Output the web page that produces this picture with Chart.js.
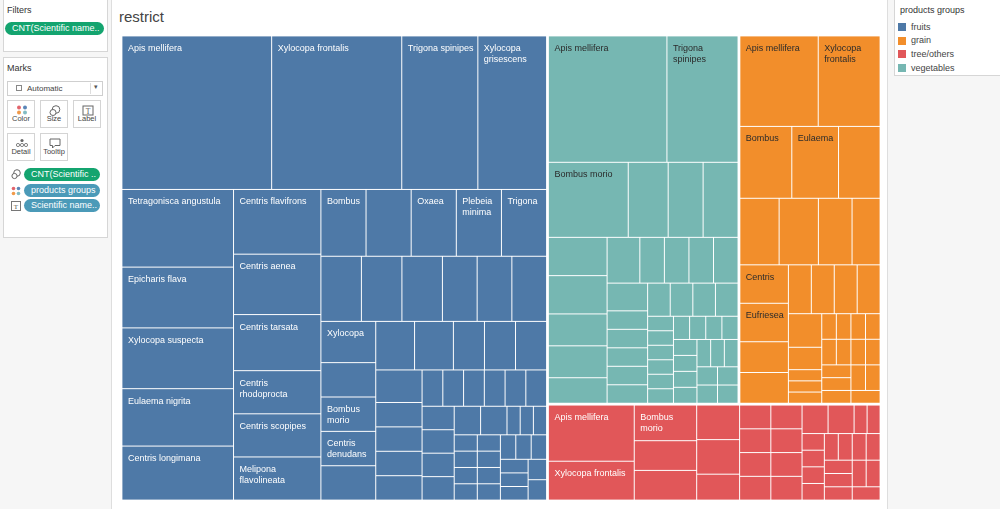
<!DOCTYPE html>
<html>
<head>
<meta charset="utf-8">
<script src="https://cdn.jsdelivr.net/npm/chart.js@4.4.1/dist/chart.umd.min.js"></script>
<style>
  body { margin:0; width:1000px; height:509px; position:relative; overflow:hidden;
         background:#f6f6f6; font-family:"Liberation Sans", Arial, sans-serif; color:#333; }
  .abs { position:absolute; }
  .card { position:absolute; background:#fff; border:1px solid #d6d6d6; box-sizing:border-box; }
  .hdr { position:absolute; font-size:9px; color:#333; }
  .pill { position:absolute; height:13px; border-radius:7px; color:#fff; font-size:9px;
          line-height:13px; box-sizing:border-box; padding-left:7px; white-space:nowrap; overflow:hidden; }
  .green { background:#14a46f; }
  .blue { background:#4b9ab8; }
  .btn { position:absolute; width:28px; height:28px; border:1px solid #d4d4d4; box-sizing:border-box;
         background:#fff; font-size:7.5px; color:#444; text-align:center; }
  .btn span { position:absolute; left:0; right:0; bottom:4px; }
  .btn svg { position:absolute; left:8px; top:4px; }
  #view { position:absolute; left:111px; top:0; width:777px; height:509px; background:#fff;
          border-left:1px solid #dedede; border-right:1px solid #dedede; box-sizing:border-box; }
  #title { position:absolute; left:119px; top:8px; font-size:15px; line-height:17px; color:#444; }
  #chartBox { position:absolute; left:121px; top:35px; width:760px; height:466px; }
  .leg { position:absolute; font-size:9px; color:#444; }
  .sw { position:absolute; width:8px; height:8px; }
</style>
</head>
<body>

<!-- left shelf -->
<div class="card" style="left:3px;top:-1px;width:105px;height:53px"></div>
<div class="hdr" style="left:7px;top:5px">Filters</div>
<div class="pill green" style="left:5px;top:22px;width:99px">CNT(Scientific name..</div>

<div class="card" style="left:3px;top:57px;width:105px;height:181px"></div>
<div class="hdr" style="left:7px;top:63px">Marks</div>
<div class="abs" style="left:7px;top:81px;width:96px;height:15px;border:1px solid #cfcfcf;box-sizing:border-box;background:#fff"></div>
<div class="abs" style="left:16px;top:85px;width:6px;height:6px;border:1px solid #888;box-sizing:border-box"></div>
<div class="abs" style="left:27px;top:84px;font-size:8px;color:#444">Automatic</div>
<div class="abs" style="left:90px;top:83px;width:1px;height:11px;background:#ddd"></div>
<div class="abs" style="left:94px;top:83px;font-size:7px;color:#555">&#9662;</div>

<div class="btn" style="left:7px;top:100px">
  <svg width="12" height="10"><circle cx="3" cy="2.5" r="2" fill="#e2646c"/><circle cx="9" cy="2.5" r="2" fill="#5b86b8"/><circle cx="3" cy="7.5" r="2" fill="#f09a4a"/><circle cx="9" cy="7.5" r="2" fill="#82bcc4"/></svg>
  <span>Color</span></div>
<div class="btn" style="left:40px;top:100px">
  <svg width="12" height="11"><circle cx="7" cy="4.5" r="3.8" fill="none" stroke="#666"/><circle cx="4" cy="7.5" r="3" fill="#fff" stroke="#666"/></svg>
  <span>Size</span></div>
<div class="btn" style="left:73px;top:100px">
  <svg width="12" height="11"><rect x="1" y="1" width="10" height="9" fill="none" stroke="#666"/><text x="6" y="8.5" font-size="7.5" text-anchor="middle" fill="#555" font-family="Liberation Serif">T</text></svg>
  <span>Label</span></div>
<div class="btn" style="left:7px;top:133px">
  <svg width="12" height="10"><circle cx="6" cy="2.5" r="1.6" fill="#666"/><circle cx="2" cy="7" r="1.6" fill="none" stroke="#666" stroke-width="0.8"/><circle cx="6" cy="7" r="1.6" fill="none" stroke="#666" stroke-width="0.8"/><circle cx="10" cy="7" r="1.6" fill="none" stroke="#666" stroke-width="0.8"/></svg>
  <span>Detail</span></div>
<div class="btn" style="left:40px;top:133px">
  <svg width="12" height="11"><path d="M1 1 H11 V7.5 H6 L3.5 10 V7.5 H1 Z" fill="none" stroke="#666"/></svg>
  <span>Tooltip</span></div>

<svg class="abs" style="left:11px;top:169px" width="10" height="11"><circle cx="6" cy="4" r="3.3" fill="none" stroke="#666"/><circle cx="3.5" cy="7" r="2.6" fill="#fff" stroke="#666"/></svg>
<div class="pill green" style="left:24px;top:168px;width:76px">CNT(Scientific ..</div>
<svg class="abs" style="left:11px;top:186px" width="10" height="10"><circle cx="2.5" cy="2.5" r="1.8" fill="#e2646c"/><circle cx="7.5" cy="2.5" r="1.8" fill="#5b86b8"/><circle cx="2.5" cy="7.5" r="1.8" fill="#f09a4a"/><circle cx="7.5" cy="7.5" r="1.8" fill="#82bcc4"/></svg>
<div class="pill blue" style="left:24px;top:184px;width:76px">products groups</div>
<svg class="abs" style="left:11px;top:201px" width="10" height="10"><rect x="0.5" y="0.5" width="9" height="9" fill="none" stroke="#777"/><text x="5" y="8" font-size="7" text-anchor="middle" fill="#555" font-family="Liberation Serif">T</text></svg>
<div class="pill blue" style="left:24px;top:199px;width:76px">Scientific name..</div>

<!-- worksheet -->
<div id="view"></div>
<div id="title">restrict</div>
<div id="chartBox"><canvas id="treemap"></canvas></div>

<!-- legend -->
<div class="card" style="left:894px;top:-1px;width:108px;height:77px"></div>
<div class="leg" style="left:900px;top:5px;color:#333">products groups</div>
<div id="legendItems"></div>

<script>
// products groups, in the order Tableau sorts them (largest count first)
const groupNames = ['fruits', 'vegetables', 'grain', 'tree/others'];
const groupColors = ['#4e79a7', '#76b7b2', '#f28e2b', '#e15759'];
const labelColors = ['#ffffff', '#2b2b2b', '#2b2b2b', '#ffffff'];
const legendOrder = ['fruits', 'grain', 'tree/others', 'vegetables'];

// CNT(Scientific name) per scientific name, one list per group (names left blank where no label shows)
const fruitsNames = ['Apis mellifera', 'Xylocopa frontalis', 'Trigona spinipes', 'Xylocopa grisescens',
  'Tetragonisca angustula', 'Epicharis flava', 'Xylocopa suspecta', 'Eulaema nigrita', 'Centris longimana',
  'Centris flavifrons', 'Centris aenea', 'Centris tarsata', 'Centris rhodoprocta', 'Centris scopipes',
  'Melipona flavolineata', 'Bombus', '', 'Oxaea', 'Plebeia minima', 'Trigona',
  '', '', '', '', '', '', 'Xylocopa', '', 'Bombus morio', 'Centris denudans'];
const fruitsCounts = [61, 53, 31, 28, 23, 18, 18, 17, 16, 15, 14, 13, 10, 10, 10, 8, 8, 8, 8, 8,
  7, 7, 7, 6, 6, 6, 6, 5, 5, 5, 5, 5, 5, 4, 4, 4, 4, 3, 3, 3, 3,
  2, 2, 2, 2, 2, 2, 2, 2, 2, 2, 2, 2,
  1, 1, 1, 1, 1, 1, 1, 1, 1, 1, 1, 1, 1, 1, 1, 1, 1, 1, 1];

const vegNames = ['Apis mellifera', 'Trigona spinipes', 'Bombus morio'];
const vegCounts = [40, 24, 16, 8, 7, 7, 6, 6, 5, 5, 4, 4, 3, 3, 3, 3, 3,
  2, 2, 2, 2, 2, 2, 2, 2, 2,
  1, 1, 1, 1, 1, 1, 1, 1, 1, 1, 1, 1, 1, 1, 1, 1, 1, 1, 1, 1, 1];

const grainNames = ['Apis mellifera', 'Xylocopa frontalis', 'Bombus', 'Eulaema', '', '', '', '', '',
  'Centris', 'Eufriesea'];
const grainCounts = [19, 15, 10, 9, 8, 7, 7, 6, 5, 5, 5, 4, 4, 3, 3, 3, 3, 3, 2,
  1, 1, 1, 1, 1, 1, 1, 1, 1, 1, 1, 1, 1, 1, 1, 1, 1];

const treeNames = ['Apis mellifera', 'Xylocopa frontalis', 'Bombus morio'];
const treeCounts = [13, 9, 6, 5, 5, 4, 4, 3, 2, 2, 2, 2, 2, 2, 2, 2, 2, 2,
  1, 1, 1, 1, 1, 1, 1, 1, 1, 1, 1, 1, 1, 1, 1, 1];

const groupLabels = [fruitsNames, vegNames, grainNames, treeNames];
const groupCounts = [fruitsCounts, vegCounts, grainCounts, treeCounts];
const groupTotals = groupCounts.map(c => c.reduce((a, b) => a + b, 0));

// legend
const legendBox = document.getElementById('legendItems');
legendOrder.forEach((name, i) => {
  const col = groupColors[groupNames.indexOf(name)];
  legendBox.innerHTML += '<div class="sw" style="left:898px;top:' + (23 + i * 13.7) + 'px;background:' + col + '"></div>' +
    '<div class="leg" style="left:911px;top:' + (21.5 + i * 13.7) + 'px">' + name + '</div>';
});

// squarified layout, golden-ratio target (same rule as d3.treemapSquarify)
function squarify(values, x0, y0, x1, y1) {
  const ratio = (1 + Math.sqrt(5)) / 2;
  const out = [];
  let value = values.reduce((a, b) => a + b, 0);
  let i0 = 0, i1 = 0;
  const n = values.length;
  while (i0 < n) {
    const dx = x1 - x0, dy = y1 - y0;
    let sum = values[i1++];
    let minV = sum, maxV = sum;
    const alpha = Math.max(dy / dx, dx / dy) / (value * ratio);
    let beta = sum * sum * alpha;
    let minRatio = Math.max(maxV / beta, beta / minV);
    for (; i1 < n; i1++) {
      const v = values[i1];
      sum += v;
      if (v < minV) minV = v;
      if (v > maxV) maxV = v;
      beta = sum * sum * alpha;
      const r = Math.max(maxV / beta, beta / minV);
      if (r > minRatio) { sum -= v; break; }
      minRatio = r;
    }
    if (dx < dy) {
      const h = i1 >= n ? dy : dy * sum / value;
      let x = x0;
      for (let i = i0; i < i1; i++) {
        const w = dx * values[i] / sum;
        out[i] = { x0: x, y0: y0, x1: x + w, y1: y0 + h };
        x += w;
      }
      y0 += h;
    } else {
      const w = i1 >= n ? dx : dx * sum / value;
      let y = y0;
      for (let i = i0; i < i1; i++) {
        const h = dy * values[i] / sum;
        out[i] = { x0: x0, y0: y, x1: x0 + w, y1: y + h };
        y += h;
      }
      x0 += w;
    }
    value -= sum;
    i0 = i1;
  }
  return out;
}

function wrapLabel(ctx, text, maxW) {
  const words = text.split(' ');
  const lines = [];
  let cur = '';
  for (const w of words) {
    if (ctx.measureText(w).width > maxW) return null;
    const t = cur ? cur + ' ' + w : w;
    if (ctx.measureText(t).width <= maxW) cur = t;
    else { lines.push(cur); cur = w; }
  }
  if (cur) lines.push(cur);
  return lines;
}

const treemapPlugin = {
  id: 'treemapCells',
  afterDatasetsDraw(chart) {
    const ctx = chart.ctx;
    const xs = chart.scales.x, ys = chart.scales.y;
    const groups = squarify(groupTotals, xs.min, ys.min, xs.max, ys.max);
    const pad = 0.9;
    ctx.save();
    groups.forEach((g, gi) => {
      const cells = squarify(groupCounts[gi], g.x0, g.y0, g.x1, g.y1);
      // shrink the group a little so a white gap separates the groups
      const kx = (g.x1 - g.x0 - 2 * pad) / (g.x1 - g.x0);
      const ky = (g.y1 - g.y0 - 2 * pad) / (g.y1 - g.y0);
      const mx = v => g.x0 + pad + (v - g.x0) * kx;
      const my = v => g.y0 + pad + (v - g.y0) * ky;
      cells.forEach((c, ci) => {
        const px0 = xs.getPixelForValue(mx(c.x0) + 0.5), px1 = xs.getPixelForValue(mx(c.x1) - 0.5);
        const py0 = ys.getPixelForValue(my(c.y0) + 0.5), py1 = ys.getPixelForValue(my(c.y1) - 0.5);
        ctx.fillStyle = groupColors[gi];
        ctx.fillRect(px0, py0, px1 - px0, py1 - py0);
        const name = groupLabels[gi][ci];
        if (!name) return;
        ctx.font = '9px "Liberation Sans", Arial, sans-serif';
        const lines = wrapLabel(ctx, name, px1 - px0 - 8);
        if (!lines || 15 + (lines.length - 1) * 11 + 3 > py1 - py0) return;
        ctx.fillStyle = labelColors[gi];
        ctx.textBaseline = 'alphabetic';
        lines.forEach((ln, li) => ctx.fillText(ln, px0 + 5.5, py0 + 14.5 + li * 11));
      });
    });
    ctx.restore();
  }
};

new Chart(document.getElementById('treemap'), {
  type: 'scatter',
  data: { datasets: [] },
  options: {
    responsive: true,
    maintainAspectRatio: false,
    animation: false,
    layout: { padding: 0 },
    plugins: { legend: { display: false }, tooltip: { enabled: false } },
    scales: {
      x: { type: 'linear', min: 0, max: 760, display: false },
      y: { type: 'linear', min: 0, max: 466, reverse: true, display: false }
    }
  },
  plugins: [treemapPlugin]
});
</script>
</body>
</html>
